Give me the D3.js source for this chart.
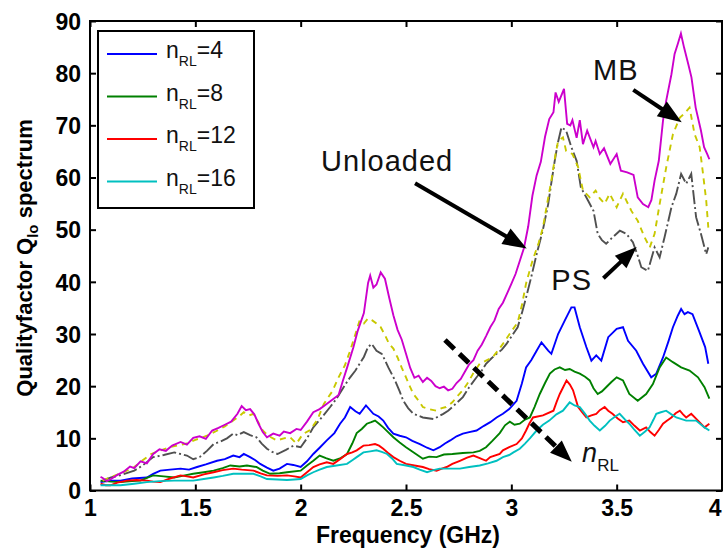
<!DOCTYPE html>
<html><head><meta charset="utf-8">
<script src="https://cdn.jsdelivr.net/npm/d3@7"></script>
<style>
html,body{margin:0;padding:0;background:#fff;}
svg{display:block;}
</style></head><body>
<svg id="chart" width="723" height="551"></svg>
<script>
// Loaded-Q spectra: [frequency GHz, Q]
const unloaded = [[1.05,2.6],[1.06,2.4],[1.08,1.8],[1.10,2.2],[1.13,3.0],[1.16,3.6],[1.19,4.6],[1.21,4.3],[1.24,5.6],[1.27,5.2],[1.30,7.0],[1.33,7.9],[1.36,7.6],[1.39,8.6],[1.43,9.3],[1.46,8.8],[1.49,10.1],[1.52,10.4],[1.55,9.9],[1.58,11.5],[1.61,12.0],[1.64,12.6],[1.67,13.2],[1.70,14.7],[1.72,16.2],[1.74,15.4],[1.76,15.6],[1.78,14.6],[1.80,12.8],[1.82,11.2],[1.84,10.2],[1.87,10.9],[1.90,10.5],[1.92,11.3],[1.95,11.0],[1.98,11.8],[2.00,11.6],[2.03,13.2],[2.06,15.0],[2.09,15.6],[2.12,16.5],[2.15,17.4],[2.18,18.3],[2.20,21.0],[2.22,23.5],[2.25,27.4],[2.27,30.5],[2.30,34.0],[2.32,39.8],[2.33,41.2],[2.345,38.9],[2.36,39.5],[2.38,41.8],[2.40,40.6],[2.42,37.0],[2.44,33.6],[2.46,30.8],[2.48,28.9],[2.50,26.2],[2.52,23.5],[2.54,21.6],[2.56,22.0],[2.58,20.8],[2.60,21.6],[2.62,21.0],[2.64,20.0],[2.66,19.6],[2.68,19.9],[2.70,19.2],[2.72,19.5],[2.74,20.6],[2.76,21.4],[2.78,22.8],[2.80,24.2],[2.82,25.0],[2.84,26.8],[2.86,28.0],[2.88,29.6],[2.90,31.3],[2.92,32.6],[2.94,34.8],[2.96,36.0],[2.98,37.8],[3.00,39.6],[3.02,41.5],[3.04,44.0],[3.06,46.5],[3.08,50.6],[3.10,56.5],[3.12,60.4],[3.14,63.0],[3.16,67.8],[3.18,71.2],[3.20,72.5],[3.21,76.3],[3.225,74.5],[3.24,76.0],[3.25,77.0],[3.265,70.3],[3.28,70.0],[3.29,71.0],[3.31,67.6],[3.325,71.0],[3.34,66.4],[3.36,69.0],[3.39,65.8],[3.40,67.0],[3.42,64.5],[3.44,65.6],[3.47,62.6],[3.50,64.5],[3.52,61.3],[3.55,61.0],[3.58,60.5],[3.60,56.2],[3.625,54.9],[3.65,54.3],[3.665,55.7],[3.68,59.4],[3.70,63.2],[3.72,70.9],[3.735,74.7],[3.76,79.8],[3.775,83.7],[3.79,85.6],[3.805,87.6],[3.82,84.9],[3.84,81.7],[3.855,79.2],[3.875,73.4],[3.90,69.0],[3.915,65.8],[3.93,64.5],[3.94,63.5]];

const mb = [[1.06,1.9],[1.10,2.6],[1.14,3.2],[1.18,3.9],[1.21,4.5],[1.25,5.8],[1.29,7.0],[1.33,7.6],[1.37,8.2],[1.42,8.7],[1.46,9.0],[1.50,9.7],[1.555,10.5],[1.60,11.4],[1.64,12.3],[1.68,13.4],[1.71,14.3],[1.73,15.0],[1.755,14.4],[1.776,14.7],[1.80,13.0],[1.82,11.5],[1.85,10.4],[1.887,9.6],[1.92,10.0],[1.95,10.2],[1.98,9.0],[2.01,10.8],[2.045,11.6],[2.08,13.6],[2.11,16.6],[2.15,19.0],[2.18,21.7],[2.21,24.0],[2.235,26.8],[2.26,30.0],[2.28,32.6],[2.30,32.0],[2.32,33.0],[2.34,32.6],[2.36,32.0],[2.38,31.3],[2.40,29.8],[2.42,28.1],[2.44,27.2],[2.46,25.5],[2.48,23.5],[2.50,21.7],[2.52,19.8],[2.535,18.5],[2.56,17.2],[2.58,16.0],[2.61,15.6],[2.645,15.3],[2.67,15.8],[2.69,16.0],[2.72,16.9],[2.74,17.9],[2.765,19.0],[2.79,20.4],[2.82,22.5],[2.85,24.3],[2.88,24.9],[2.91,25.5],[2.94,27.0],[2.96,28.1],[3.00,30.5],[3.03,32.2],[3.05,35.5],[3.07,39.7],[3.10,44.0],[3.13,47.5],[3.15,50.4],[3.17,55.0],[3.19,59.4],[3.21,64.5],[3.222,67.0],[3.245,67.7],[3.26,65.1],[3.29,64.5],[3.317,62.0],[3.34,57.5],[3.372,56.2],[3.40,57.5],[3.42,56.0],[3.443,55.0],[3.467,56.9],[3.50,54.3],[3.53,56.9],[3.57,53.6],[3.60,51.7],[3.633,48.5],[3.657,46.6],[3.68,49.2],[3.704,54.9],[3.735,61.9],[3.767,68.3],[3.80,71.5],[3.82,72.2],[3.846,73.4],[3.87,68.3],[3.894,65.8],[3.91,60.7],[3.925,55.6],[3.935,50.4]];

const ps = [[1.06,1.9],[1.10,2.5],[1.15,3.0],[1.21,3.8],[1.25,4.8],[1.30,6.4],[1.35,6.8],[1.40,7.3],[1.43,7.0],[1.46,6.7],[1.49,6.0],[1.52,6.4],[1.555,7.6],[1.587,8.9],[1.62,9.4],[1.65,10.0],[1.68,10.9],[1.70,10.6],[1.73,11.2],[1.76,10.6],[1.79,10.2],[1.815,9.0],[1.84,8.0],[1.865,7.4],[1.89,7.0],[1.93,7.8],[1.966,8.6],[2.00,8.3],[2.03,10.0],[2.06,12.1],[2.10,14.0],[2.14,16.0],[2.17,17.6],[2.195,19.2],[2.215,20.5],[2.235,21.7],[2.26,23.0],[2.28,24.3],[2.30,25.6],[2.32,27.5],[2.337,28.1],[2.36,26.8],[2.385,26.2],[2.40,25.0],[2.416,23.6],[2.448,21.1],[2.47,19.0],[2.487,17.2],[2.51,15.8],[2.535,14.7],[2.58,14.0],[2.63,13.7],[2.655,14.2],[2.677,14.7],[2.70,15.3],[2.72,16.0],[2.77,17.9],[2.80,19.8],[2.835,21.7],[2.86,23.0],[2.88,24.3],[2.905,25.3],[2.93,26.2],[2.955,27.0],[2.977,28.1],[3.00,29.5],[3.03,31.3],[3.05,34.0],[3.07,37.0],[3.095,41.0],[3.12,45.3],[3.15,50.0],[3.175,54.9],[3.19,59.0],[3.206,63.2],[3.22,66.5],[3.238,69.6],[3.26,69.0],[3.285,65.8],[3.31,63.2],[3.33,58.1],[3.364,55.6],[3.39,53.6],[3.41,49.2],[3.43,48.0],[3.45,47.3],[3.48,48.5],[3.515,49.8],[3.546,49.2],[3.577,47.6],[3.60,45.0],[3.617,42.8],[3.648,42.1],[3.68,46.6],[3.704,44.7],[3.727,48.5],[3.76,54.3],[3.783,56.9],[3.806,60.7],[3.83,58.8],[3.854,60.7],[3.877,52.4],[3.90,49.2],[3.925,45.3],[3.935,46.6]];

const nrl4 = [[1.05,1.6],[1.10,1.9],[1.145,1.9],[1.20,2.3],[1.27,2.5],[1.30,3.2],[1.334,3.8],[1.38,4.0],[1.43,4.2],[1.47,4.0],[1.508,4.5],[1.55,5.0],[1.603,5.7],[1.64,6.0],[1.68,6.7],[1.71,6.4],[1.73,7.0],[1.76,6.4],[1.785,5.8],[1.808,5.1],[1.84,4.4],[1.87,3.8],[1.90,4.2],[1.935,5.1],[1.965,4.9],[2.00,4.5],[2.03,5.6],[2.06,7.0],[2.09,8.2],[2.124,9.6],[2.16,11.0],[2.187,12.8],[2.21,14.0],[2.235,16.0],[2.26,15.2],[2.28,14.7],[2.31,16.3],[2.345,14.7],[2.37,14.2],[2.392,13.4],[2.415,12.0],[2.44,10.9],[2.47,10.5],[2.50,10.2],[2.53,9.5],[2.566,8.9],[2.60,8.2],[2.63,7.7],[2.66,8.3],[2.685,9.0],[2.71,9.6],[2.74,10.4],[2.77,10.9],[2.80,11.2],[2.835,11.5],[2.87,12.4],[2.90,13.1],[2.93,14.0],[2.96,14.7],[2.99,15.6],[3.025,17.2],[3.05,20.5],[3.07,23.6],[3.095,25.0],[3.12,26.8],[3.143,28.4],[3.175,26.8],[3.19,26.2],[3.222,30.0],[3.254,32.6],[3.285,35.1],[3.30,35.1],[3.325,31.3],[3.356,27.5],[3.38,24.9],[3.403,25.9],[3.427,24.9],[3.46,29.4],[3.50,31.0],[3.53,31.3],[3.554,28.7],[3.593,26.8],[3.625,24.3],[3.664,21.7],[3.688,22.4],[3.72,25.5],[3.745,28.5],[3.767,31.3],[3.79,33.5],[3.806,34.8],[3.822,33.8],[3.838,34.2],[3.86,33.8],[3.89,30.7],[3.92,27.5],[3.935,24.3]];

const nrl8 = [[1.05,1.9],[1.10,1.7],[1.145,1.6],[1.20,1.8],[1.24,1.9],[1.27,2.4],[1.30,2.9],[1.35,2.7],[1.40,2.5],[1.45,2.9],[1.49,3.2],[1.54,3.5],[1.587,3.8],[1.63,4.3],[1.666,4.8],[1.71,4.6],[1.745,4.8],[1.79,4.5],[1.82,3.8],[1.855,3.2],[1.90,3.3],[1.935,3.5],[2.00,3.8],[2.03,4.8],[2.06,5.7],[2.09,6.7],[2.12,6.2],[2.155,5.7],[2.19,6.2],[2.22,7.0],[2.245,9.0],[2.266,11.0],[2.29,11.8],[2.314,12.8],[2.335,13.1],[2.353,13.4],[2.372,12.8],[2.392,12.1],[2.415,11.2],[2.44,10.2],[2.47,9.2],[2.50,8.3],[2.54,7.2],[2.58,6.1],[2.61,6.5],[2.645,6.4],[2.68,6.9],[2.72,7.0],[2.77,7.2],[2.82,7.3],[2.85,7.6],[2.88,8.3],[2.91,9.5],[2.945,11.0],[2.97,12.5],[2.993,13.2],[3.015,12.6],[3.04,12.8],[3.065,13.6],[3.088,14.0],[3.11,16.0],[3.135,18.5],[3.16,20.6],[3.183,22.4],[3.205,23.2],[3.23,23.6],[3.255,23.1],[3.277,23.3],[3.30,22.8],[3.325,22.4],[3.35,21.8],[3.372,21.1],[3.39,19.6],[3.41,18.5],[3.43,19.0],[3.45,19.8],[3.475,20.8],[3.50,21.7],[3.53,21.1],[3.56,18.5],[3.60,17.2],[3.64,18.5],[3.672,20.4],[3.69,22.2],[3.704,23.6],[3.735,25.5],[3.767,24.6],[3.806,23.6],[3.846,23.0],[3.886,21.7],[3.917,19.8],[3.94,17.6]];

const nrl12 = [[1.05,1.3],[1.075,1.0],[1.097,1.0],[1.13,1.5],[1.176,1.9],[1.22,2.0],[1.27,1.9],[1.30,1.7],[1.334,1.6],[1.38,2.3],[1.43,2.9],[1.46,2.7],[1.49,2.5],[1.54,3.1],[1.587,3.5],[1.63,3.9],[1.68,4.2],[1.72,4.0],[1.776,3.8],[1.81,3.3],[1.84,2.9],[1.89,2.8],[1.935,2.9],[1.97,2.7],[2.00,2.5],[2.03,3.5],[2.06,4.5],[2.09,5.0],[2.124,5.4],[2.155,5.1],[2.19,6.1],[2.22,7.0],[2.245,7.3],[2.266,7.7],[2.298,8.6],[2.325,8.7],[2.353,8.9],[2.372,8.6],[2.392,8.0],[2.415,7.2],[2.44,6.4],[2.47,5.7],[2.50,5.1],[2.54,4.8],[2.58,4.5],[2.61,4.1],[2.645,3.8],[2.67,4.2],[2.693,4.5],[2.72,5.1],[2.756,5.7],[2.79,6.3],[2.82,6.7],[2.85,6.2],[2.88,5.7],[2.90,6.4],[2.945,7.0],[2.96,7.7],[2.99,8.3],[3.025,8.9],[3.05,10.0],[3.07,11.5],[3.085,12.8],[3.103,14.0],[3.15,14.4],[3.20,15.3],[3.215,17.0],[3.23,18.5],[3.246,19.8],[3.262,21.1],[3.278,20.3],[3.293,19.2],[3.317,16.0],[3.336,15.0],[3.356,14.0],[3.38,14.4],[3.403,14.7],[3.42,15.4],[3.443,16.0],[3.46,15.3],[3.48,14.7],[3.505,13.8],[3.53,13.1],[3.56,13.4],[3.585,12.4],[3.61,11.5],[3.64,12.1],[3.66,11.2],[3.68,10.5],[3.70,11.6],[3.72,12.8],[3.74,13.4],[3.76,14.0],[3.78,14.8],[3.80,15.3],[3.815,14.6],[3.83,14.0],[3.854,14.7],[3.886,13.4],[3.917,12.1],[3.94,12.8]];

const nrl16 = [[1.05,1.0],[1.10,1.0],[1.145,1.0],[1.21,1.3],[1.27,1.6],[1.33,1.8],[1.40,1.9],[1.45,1.9],[1.49,1.9],[1.54,2.2],[1.587,2.5],[1.63,2.8],[1.68,3.2],[1.73,3.2],[1.776,3.2],[1.81,2.7],[1.84,2.2],[1.89,2.1],[1.935,2.0],[1.97,2.1],[2.00,2.2],[2.03,2.9],[2.06,3.5],[2.09,4.0],[2.124,4.5],[2.17,4.8],[2.22,5.1],[2.245,5.8],[2.266,6.4],[2.298,7.3],[2.33,7.5],[2.36,7.7],[2.385,7.4],[2.41,7.0],[2.435,6.1],[2.456,5.1],[2.50,4.8],[2.535,4.5],[2.565,4.0],[2.60,3.5],[2.63,3.9],[2.66,4.2],[2.71,4.2],[2.756,4.2],[2.80,4.5],[2.85,4.8],[2.89,5.2],[2.93,5.7],[2.96,6.4],[2.99,6.8],[3.01,7.3],[3.04,8.0],[3.065,9.0],[3.088,10.0],[3.12,11.5],[3.15,12.6],[3.18,13.4],[3.214,14.6],[3.245,15.3],[3.277,16.9],[3.30,16.3],[3.325,16.0],[3.35,14.7],[3.372,13.4],[3.395,12.4],[3.42,11.5],[3.445,12.4],[3.467,13.4],[3.49,14.1],[3.514,14.7],[3.54,13.6],[3.56,12.8],[3.585,11.6],[3.61,10.5],[3.635,11.3],[3.656,12.1],[3.675,13.6],[3.688,14.7],[3.71,15.0],[3.735,15.3],[3.76,14.6],[3.783,14.0],[3.83,13.4],[3.877,13.4],[3.917,12.1],[3.94,11.5]];

const xTicks = [1, 1.5, 2, 2.5, 3, 3.5, 4];
const yTicks = [0, 10, 20, 30, 40, 50, 60, 70, 80, 90];
const legendValues = ["4", "8", "12", "16"];

const W = 723, H = 551;
const margin = {left: 90, right: 1, top: 21, bottom: 60.5};
const FONT = "'Liberation Sans', Arial, Helvetica, sans-serif";

const svg = d3.select("#chart");
const x = d3.scaleLinear().domain([1, 4]).range([margin.left, W - margin.right]);
const y = d3.scaleLinear().domain([0, 90]).range([H - margin.bottom, margin.top]);

svg.append("rect").attr("width", W).attr("height", H).attr("fill", "#fff");

svg.append("defs").append("clipPath").attr("id", "plotClip")
  .append("rect")
  .attr("x", x(1)).attr("y", y(90))
  .attr("width", x(4) - x(1)).attr("height", y(0) - y(90));

const line = d3.line().x(d => x(d[0])).y(d => y(d[1]));

const series = [
  {data: nrl4,  color: "#0000ff", dash: null},
  {data: nrl8,  color: "#008000", dash: null},
  {data: nrl12, color: "#ff0000", dash: null},
  {data: nrl16, color: "#00c0c0", dash: null},
  {data: ps,    color: "#505050", dash: "14,3,2,3"},
  {data: mb,    color: "#c8c800", dash: "6,5"},
  {data: unloaded, color: "#cc00cc", dash: null}
];

const plot = svg.append("g").attr("clip-path", "url(#plotClip)");
series.forEach(s => {
  plot.append("path")
    .datum(s.data)
    .attr("d", line)
    .attr("fill", "none")
    .attr("stroke", s.color)
    .attr("stroke-width", 1.9)
    .attr("stroke-linejoin", "miter")
    .attr("stroke-dasharray", s.dash);
});

// Axes: box with inward ticks on all four sides
const tickLen = 6;
const axB = svg.append("g").attr("transform", `translate(0,${y(0)})`)
  .call(d3.axisBottom(x).tickValues(xTicks).tickSizeInner(-tickLen).tickSizeOuter(0).tickPadding(9).tickFormat(d3.format("")));
const axT = svg.append("g").attr("transform", `translate(0,${y(90)})`)
  .call(d3.axisTop(x).tickValues(xTicks).tickSizeInner(-tickLen).tickSizeOuter(0).tickFormat(""));
const axL = svg.append("g").attr("transform", `translate(${x(1)},0)`)
  .call(d3.axisLeft(y).tickValues(yTicks).tickSizeInner(-tickLen).tickSizeOuter(0).tickPadding(9).tickFormat(d3.format("")));
const axR = svg.append("g").attr("transform", `translate(${x(4)},0)`)
  .call(d3.axisRight(y).tickValues(yTicks).tickSizeInner(-tickLen).tickSizeOuter(0).tickFormat(""));

[axB, axT, axL, axR].forEach(g => {
  g.select(".domain").remove();
  g.selectAll(".tick line").attr("stroke", "#000").attr("stroke-width", 2);
  g.selectAll(".tick text")
    .attr("fill", "#000")
    .style("font-family", FONT)
    .style("font-weight", "bold")
    .style("font-size", "23px");
});
axB.selectAll(".tick text").attr("dy", "0.71em");
// the last frequency label sits on the right edge of the frame
axB.selectAll(".tick text").filter(d => d === 4).attr("text-anchor", "end").attr("x", -1);
axL.selectAll(".tick text").attr("dy", "0.36em");

svg.append("rect")
  .attr("x", x(1)).attr("y", y(90))
  .attr("width", x(4) - x(1)).attr("height", y(0) - y(90))
  .attr("fill", "none").attr("stroke", "#000").attr("stroke-width", 2);

// Axis titles
svg.append("text")
  .attr("x", (x(1) + x(4)) / 2 + 2).attr("y", 543)
  .attr("text-anchor", "middle")
  .style("font-family", FONT).style("font-weight", "bold").style("font-size", "23px")
  .text("Frequency (GHz)");

const yTitle = svg.append("text")
  .attr("transform", "translate(32,258) rotate(-90)")
  .attr("text-anchor", "middle")
  .style("font-family", FONT).style("font-weight", "bold").style("font-size", "22px");
yTitle.append("tspan").text("Qualityfactor Q");
yTitle.append("tspan").attr("dy", 6).style("font-size", "15px").text("lo");
yTitle.append("tspan").attr("dy", -6).text(" spectrum");

// Legend
const legend = svg.append("g");
legend.append("rect")
  .attr("x", 98).attr("y", 31).attr("width", 156).attr("height", 177)
  .attr("fill", "#fff").attr("stroke", "#000").attr("stroke-width", 2);
legendValues.forEach((v, i) => {
  const ly = 54 + i * 42.5;
  legend.append("line")
    .attr("x1", 107).attr("x2", 157).attr("y1", ly).attr("y2", ly)
    .attr("stroke", series[i].color).attr("stroke-width", 2);
  const t = legend.append("text")
    .attr("x", 166).attr("y", ly + 4)
    .style("font-family", FONT).style("font-size", "23px").attr("fill", "#111");
  t.append("tspan").text("n");
  t.append("tspan").attr("dy", 8).style("font-size", "14px").text("RL");
  t.append("tspan").attr("dy", -8).text("=" + v);
});

// Annotation arrows
function arrow(x0, y0, x1, y1, opts) {
  const dx = x1 - x0, dy = y1 - y0, L = Math.hypot(dx, dy);
  const ux = dx / L, uy = dy / L;
  const hl = opts.head, hw = opts.headW;
  const bx = x1 - ux * hl, by = y1 - uy * hl;
  svg.append("line")
    .attr("x1", x0).attr("y1", y0).attr("x2", bx + ux * 2).attr("y2", by + uy * 2)
    .attr("stroke", "#000").attr("stroke-width", opts.width)
    .attr("stroke-dasharray", opts.dash || null);
  svg.append("path")
    .attr("d", `M${x1},${y1}L${bx - uy * hw / 2},${by + ux * hw / 2}L${bx + uy * hw / 2},${by - ux * hw / 2}Z`)
    .attr("fill", "#000");
}

function label(txt, fx, fy) {
  svg.append("text")
    .attr("x", x(fx)).attr("y", y(fy))
    .style("font-family", FONT).style("font-size", "29px")
    .style("letter-spacing", "1px")
    .attr("fill", "#111")
    .text(txt);
}

label("Unloaded", 2.097, 61.2);
arrow(x(2.543), y(58.9), x(3.073), y(46.4), {width: 4, head: 24, headW: 18});

label("MB", 3.388, 78.6);
arrow(x(3.579), y(76.8), x(3.809), y(70.6), {width: 4, head: 24, headW: 18});

label("PS", 3.19, 38.5);
arrow(x(3.437), y(40.7), x(3.595), y(46.7), {width: 4, head: 22, headW: 17});

// Direction of increasing n_RL
arrow(x(2.685), y(28.85), x(3.287), y(5.5), {width: 5, head: 22, headW: 17, dash: "13,7"});
const nl = svg.append("text")
  .attr("x", x(3.336)).attr("y", y(5.4))
  .style("font-family", FONT).style("font-size", "27px").attr("fill", "#111");
nl.append("tspan").style("font-style", "italic").text("n");
nl.append("tspan").attr("dy", 9).style("font-size", "17px").text("RL");
</script>
</body></html>
